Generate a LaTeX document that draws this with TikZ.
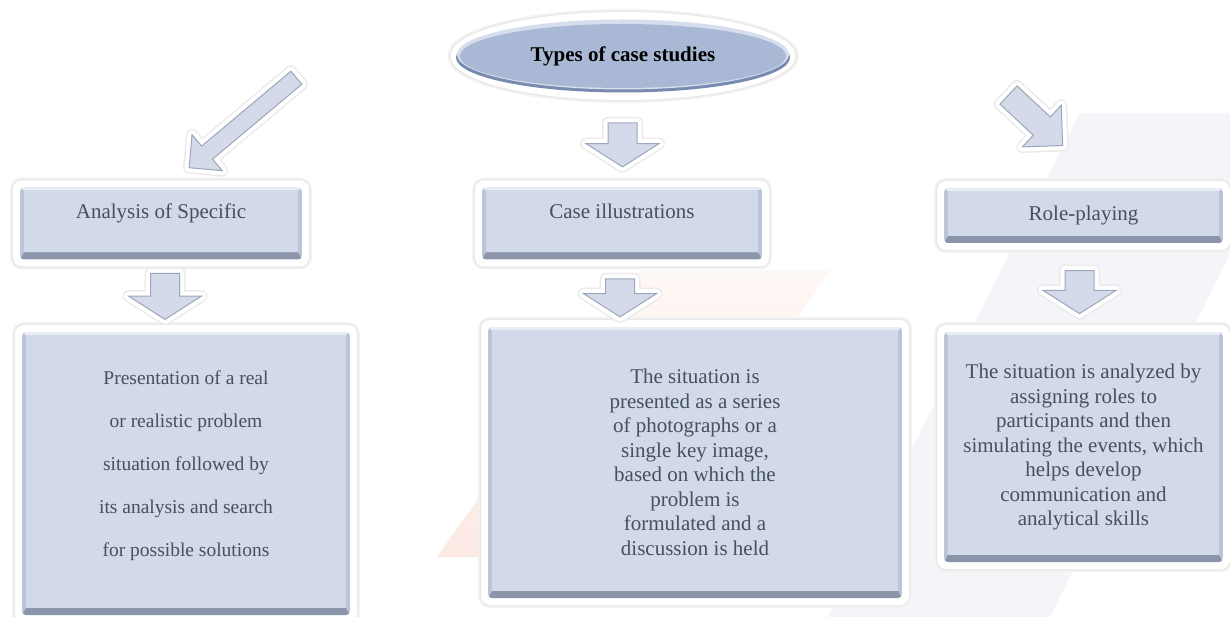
\documentclass[tikz,border=0pt]{standalone}
\usepackage{fontspec}
\setmainfont{Liberation Serif}
\definecolor{PanelFace}{RGB}{210,217,232}
\definecolor{PanelDark}{RGB}{138,149,170}
\definecolor{PanelLight}{RGB}{233,237,246}
\definecolor{PanelSide}{RGB}{188,197,215}
\definecolor{InkGray}{RGB}{70,80,99}
\definecolor{ArrowFace}{RGB}{212,218,233}
\definecolor{ArrowEdge}{RGB}{156,166,187}
\definecolor{TitleFace}{RGB}{169,185,213}
\definecolor{TitleRim}{RGB}{120,138,176}
\definecolor{TitleLight}{RGB}{214,222,238}
\definecolor{MarkPeachA}{RGB}{254,248,245}
\definecolor{MarkPeachB}{RGB}{252,234,227}
\definecolor{MarkGray}{RGB}{243,245,249}
\usetikzlibrary{shapes.geometric,shapes.arrows,calc,positioning}

\tikzset{
  panel/.style={rectangle, rounded corners=9pt, fill=white, inner sep=0pt, align=center, text=InkGray,
    preaction={draw=black!5, line width=6pt},
    preaction={draw=black!9, line width=2.5pt},
    path picture={
      \coordinate (pA) at ($(path picture bounding box.south west)+(7pt,7pt)$);
      \coordinate (pB) at ($(path picture bounding box.north east)+(-7pt,-7pt)$);
      \begin{scope}[sharp corners]
        \clip[rounded corners=4pt] (pA) rectangle (pB);
        \fill[PanelSide] (pA) rectangle (pB);
        \fill[PanelDark] (pA) -- (pA -| pB) -- ($(pA -| pB)+(-4pt,7pt)$) -- ($(pA)+(4pt,7pt)$) -- cycle;
        \fill[PanelLight] (pB) -- (pB -| pA) -- ($(pB -| pA)+(4pt,-3pt)$) -- ($(pB)+(-4pt,-3pt)$) -- cycle;
        \fill[PanelFace] ($(pA)+(4pt,7pt)$) rectangle ($(pB)+(-4pt,-3pt)$);
      \end{scope}
    }},
  bigtext/.style={font=\fontsize{21}{24.5}\selectfont},
  titlebubble/.style={ellipse, minimum width=345pt, minimum height=88pt, inner sep=0pt, fill=white,
    preaction={draw=black!5, line width=6pt},
    preaction={draw=black!9, line width=2.5pt},
    font=\fontsize{21}{24}\selectfont\bfseries,
    path picture={
      \fill[TitleRim] ($(path picture bounding box.center)+(0pt,-1.5pt)$) ellipse [x radius=167pt, y radius=35pt];
      \fill[TitleLight] ($(path picture bounding box.center)+(0pt,1.5pt)$) ellipse [x radius=166pt, y radius=35pt];
      \fill[TitleFace] (path picture bounding box.center) ellipse [x radius=163pt, y radius=32pt];
    }},
  fatarrow/.style={single arrow, inner xsep=0pt, fill=ArrowFace, draw=ArrowEdge, line width=1pt,
    preaction={draw=black!8, line width=12pt, line join=round},
    preaction={draw=white, line width=9pt, line join=round}},
  downarrow/.style={fatarrow, rotate=-90, inner ysep=14pt,
    single arrow head extend=22pt, single arrow tip angle=115}
}

\begin{document}
\begin{tikzpicture}[x=1pt,y=-1pt]
\useasboundingbox (0,0) rectangle (1230,617);
\fill[white] (0,0) rectangle (1230,617);
% faint marks in the background
\shade[top color=MarkPeachA, bottom color=MarkPeachB] (640,270) -- (830,270) -- (635,557) -- (437,557) -- cycle;
\fill[MarkGray] (1080,113) -- (1300,113) -- (1050,617) -- (828,617) -- cycle;

% Title
\node[titlebubble] (types) at (623,56) {Types of case studies};

% Top row
\node[panel, bigtext, minimum width=296pt, minimum height=86pt, text depth=25pt] (anal) at (161,223.5) {Analysis of Specific};
\node[panel, bigtext, minimum width=294pt, minimum height=86pt, text depth=25pt] (illus) at (622,223.5) {Case illustrations};
\node[panel, bigtext, minimum width=293pt, minimum height=69pt] (role) at (1083.5,215.5) {Role-playing};

% Bottom row
\node[panel, font=\fontsize{19.5}{43}\selectfont, minimum width=342pt, minimum height=297pt, text depth=20pt] (analdesc) at (186,473.5)
  {Presentation of a real\\or realistic problem\\situation followed by\\its analysis and search\\for possible solutions};
\node[panel, bigtext, minimum width=428pt, minimum height=285pt] (illusdesc) at (695,462.5)
  {The situation is\\presented as a series\\of photographs or a\\single key image,\\based on which the\\problem is\\formulated and a\\discussion is held};
\node[panel, bigtext, minimum width=293pt, minimum height=244pt] (roledesc) at (1083.5,447)
  {The situation is analyzed by\\assigning roles to\\participants and then\\simulating the events, which\\helps develop\\communication and\\analytical skills};

% Arrows
\coordinate (leftmid) at (246,120);
\coordinate (rightmid) at (1031,116);
\node[fatarrow, rotate=220, minimum height=140pt, inner ysep=8pt,
  single arrow head extend=15pt, single arrow tip angle=90] (toanal) at (leftmid) {};
\node[fatarrow, rotate=-43, minimum height=74pt, inner ysep=12pt,
  single arrow head extend=16pt, single arrow tip angle=90] (torole) at (rightmid) {};
\node[downarrow, minimum height=44pt] (toillus) at ($(types.south)!0.5!(illus.north)$) {};
\node[downarrow, minimum height=46pt, xshift=-4pt, yshift=4pt] (analdown) at ($(anal.south)!0.5!(anal.south |- analdesc.north)$) {};
\node[downarrow, minimum height=38pt, yshift=-2pt] (illusdown) at ($(illus.south)!0.5!(illus.south |- illusdesc.north)$) {};
\node[downarrow, minimum height=43pt, yshift=-4pt] (roledown) at ($(role.south)!0.5!(roledesc.north)$) {};
\end{tikzpicture}
\end{document}
